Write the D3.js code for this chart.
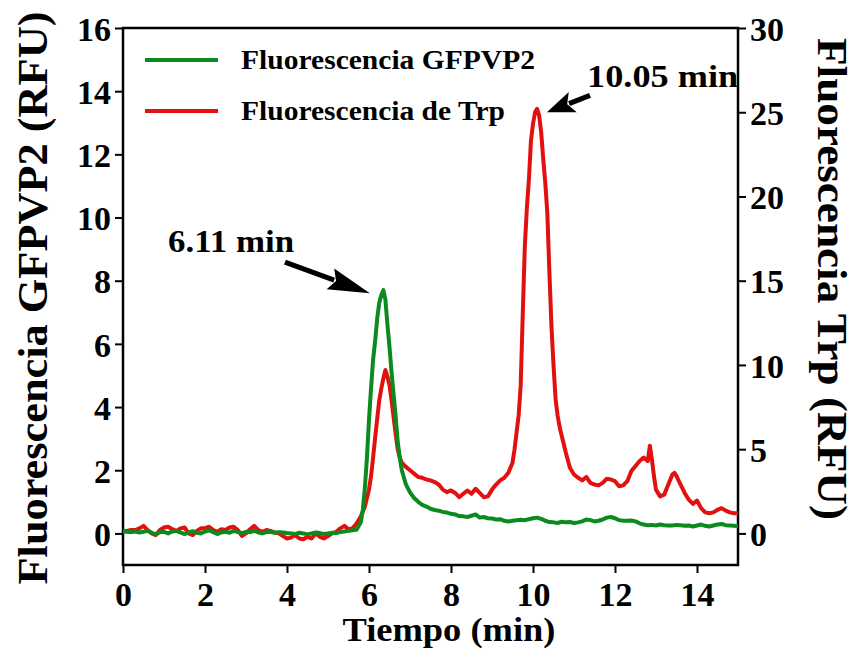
<!DOCTYPE html>
<html><head><meta charset="utf-8">
<script src="https://cdn.jsdelivr.net/npm/d3@7"></script>
<style>
html,body{margin:0;padding:0;background:#fff;}
svg{display:block;}
text{font-family:"Liberation Serif","Times New Roman",serif;font-weight:bold;fill:#000;}
</style></head>
<body>
<svg id="chart" width="855" height="649"></svg>
<script>
// ---- data ----
const xTicks = [0, 2, 4, 6, 8, 10, 12, 14];
const leftTicks = [0, 2, 4, 6, 8, 10, 12, 14, 16];
const rightTicks = [0, 5, 10, 15, 20, 25, 30];
const seriesNames = ["Fluorescencia GFPVP2", "Fluorescencia de Trp"];
const axisTitles = {x: "Tiempo (min)", left: "Fluorescencia GFPVP2 (RFU)", right: "Fluorescencia Trp (RFU)"};

// GFPVP2 fluorescence (left axis) : [time min, RFU]
const gfp = [
[0.0,0.05],[0.1,0.05],[0.2,0.04],[0.3,0.06],[0.4,0.03],[0.5,0.05],[0.6,0.08],[0.7,0.02],[0.8,-0.03],[0.9,0.04],
[1.0,0.05],[1.1,0.0],[1.2,0.06],[1.3,0.08],[1.4,0.03],[1.5,-0.02],[1.6,0.03],[1.7,0.07],[1.8,0.02],[1.9,0.0],
[2.0,0.06],[2.1,0.1],[2.2,0.04],[2.3,-0.02],[2.4,0.03],[2.5,0.05],[2.6,0.02],[2.7,0.08],[2.8,0.04],[2.9,0.01],
[3.0,0.05],[3.1,0.04],[3.2,0.08],[3.3,0.03],[3.4,0.0],[3.5,0.04],[3.6,0.05],[3.7,0.02],[3.8,0.04],[3.9,0.03],
[4.0,0.01],[4.1,0.0],[4.2,-0.02],[4.3,0.02],[4.4,0.0],[4.5,-0.03],[4.6,0.0],[4.7,0.03],[4.8,0.01],[4.9,-0.02],
[5.0,0.0],[5.1,0.02],[5.2,0.01],[5.3,0.04],[5.4,0.06],[5.5,0.08],[5.6,0.1],[5.7,0.12],[5.8,0.35],[5.85,0.75],
[5.9,1.45],[5.95,2.4],[6.0,3.6],[6.05,4.6],[6.1,5.5],[6.15,6.1],[6.2,6.8],[6.25,7.3],[6.3,7.55],[6.35,7.7],
[6.4,7.4],[6.45,6.6],[6.5,5.9],[6.55,5.1],[6.6,4.4],[6.65,3.7],[6.7,2.9],[6.75,2.4],[6.8,2.0],[6.9,1.55],
[7.0,1.3],[7.1,1.12],[7.2,1.0],[7.3,0.9],[7.4,0.85],[7.5,0.78],[7.6,0.74],[7.7,0.72],[7.8,0.68],[7.9,0.66],
[8.0,0.62],[8.1,0.6],[8.2,0.55],[8.3,0.54],[8.4,0.52],[8.5,0.56],[8.6,0.6],[8.7,0.5],[8.8,0.52],[8.9,0.48],
[9.0,0.47],[9.1,0.44],[9.2,0.45],[9.3,0.4],[9.4,0.38],[9.5,0.4],[9.6,0.42],[9.7,0.43],[9.8,0.42],[9.9,0.45],
[10.0,0.48],[10.1,0.5],[10.2,0.46],[10.3,0.4],[10.4,0.36],[10.5,0.35],[10.6,0.33],[10.7,0.37],[10.8,0.35],[10.9,0.36],
[11.0,0.33],[11.1,0.35],[11.2,0.38],[11.3,0.44],[11.4,0.42],[11.5,0.38],[11.6,0.4],[11.7,0.44],[11.8,0.5],[11.9,0.52],
[12.0,0.48],[12.1,0.42],[12.2,0.4],[12.3,0.4],[12.4,0.41],[12.5,0.38],[12.6,0.32],[12.7,0.28],[12.8,0.26],[12.9,0.27],
[13.0,0.25],[13.1,0.28],[13.2,0.26],[13.3,0.25],[13.4,0.25],[13.5,0.27],[13.6,0.26],[13.7,0.24],[13.8,0.25],[13.9,0.22],
[14.0,0.25],[14.1,0.28],[14.2,0.24],[14.3,0.22],[14.4,0.25],[14.5,0.28],[14.6,0.3],[14.7,0.26],[14.8,0.25],[14.9,0.24],
[15.0,0.23]
];

// Trp fluorescence (right axis) : [time min, RFU]
const trp = [
[0.0,0.15],[0.1,0.15],[0.2,0.2],[0.3,0.2],[0.4,0.3],[0.5,0.45],[0.6,0.2],[0.7,0.0],[0.8,-0.1],[0.9,0.2],
[1.0,0.35],[1.1,0.4],[1.2,0.25],[1.3,0.15],[1.4,0.3],[1.5,0.35],[1.6,0.0],[1.7,-0.1],[1.8,0.15],[1.9,0.3],
[2.0,0.3],[2.1,0.4],[2.2,0.2],[2.3,0.1],[2.4,0.25],[2.5,0.2],[2.6,0.35],[2.7,0.4],[2.8,0.2],[2.9,-0.15],
[3.0,0.0],[3.1,0.25],[3.2,0.45],[3.3,0.2],[3.4,0.1],[3.5,0.2],[3.6,0.15],[3.7,0.05],[3.8,0.0],[3.9,-0.15],
[4.0,-0.3],[4.1,-0.25],[4.2,-0.1],[4.3,-0.3],[4.4,-0.35],[4.5,-0.2],[4.6,-0.3],[4.7,0.0],[4.8,-0.2],[4.9,-0.3],
[5.0,-0.15],[5.1,0.0],[5.2,0.1],[5.3,0.3],[5.4,0.45],[5.5,0.25],[5.6,0.3],[5.7,0.6],[5.8,1.0],[5.9,1.6],
[6.0,2.6],[6.05,3.4],[6.1,4.5],[6.15,5.7],[6.2,6.8],[6.25,7.9],[6.3,8.6],[6.35,9.2],[6.4,9.7],[6.45,9.3],
[6.5,8.8],[6.55,7.9],[6.6,6.9],[6.65,5.9],[6.7,5.0],[6.75,4.5],[6.8,4.2],[6.9,3.95],[7.0,3.75],[7.1,3.55],
[7.2,3.35],[7.3,3.3],[7.4,3.2],[7.5,3.15],[7.6,3.05],[7.7,2.9],[7.8,2.6],[7.9,2.45],[8.0,2.55],[8.1,2.4],
[8.2,2.15],[8.3,2.35],[8.4,2.55],[8.5,2.35],[8.6,2.65],[8.7,2.4],[8.8,2.15],[8.9,2.2],[9.0,2.6],[9.1,2.9],
[9.2,3.15],[9.3,3.3],[9.4,3.6],[9.5,4.2],[9.55,5.0],[9.6,6.0],[9.65,7.0],[9.7,8.8],[9.75,13.0],[9.8,17.0],
[9.85,19.3],[9.9,21.0],[9.95,23.3],[10.0,24.3],[10.05,25.0],[10.1,25.2],[10.15,24.8],[10.2,23.8],[10.25,22.2],[10.3,20.8],
[10.35,19.0],[10.4,15.5],[10.45,12.3],[10.5,10.0],[10.55,8.0],[10.6,7.0],[10.65,6.3],[10.7,5.8],[10.8,4.8],[10.9,3.9],
[11.0,3.5],[11.1,3.3],[11.2,3.15],[11.3,3.35],[11.4,3.0],[11.5,2.9],[11.6,2.85],[11.7,3.0],[11.8,3.25],[11.9,3.2],
[12.0,3.1],[12.1,2.8],[12.2,2.85],[12.3,3.1],[12.4,3.7],[12.5,4.0],[12.6,4.3],[12.7,4.5],[12.8,4.3],[12.85,5.2],
[12.9,4.4],[12.95,3.4],[13.0,2.6],[13.1,2.2],[13.2,2.3],[13.3,2.9],[13.4,3.5],[13.45,3.6],[13.5,3.4],[13.6,2.9],
[13.7,2.4],[13.8,2.0],[13.9,1.75],[14.0,1.95],[14.1,1.5],[14.2,1.25],[14.3,1.2],[14.4,1.25],[14.5,1.4],[14.6,1.5],
[14.7,1.35],[14.8,1.25],[14.9,1.2],[15.0,1.2]
];

// annotations: label, text anchor (time, value, axis), arrow tail & tip
const annotLabels = ["6.11 min", "10.05 min"];
const annotText = [[1.1, 8.9, "left"], [11.32, 26.5, "right"]];
const annotArrows = [[[3.95, 8.59], [6.02, 7.6], "left"], [[11.39, 26.0], [10.34, 25.0], "right"]];

// ---- chart ----
const W = 855, H = 649;
const M = {left: 123, right: 738, top: 28, bottom: 565};
const svg = d3.select("#chart");
const GREEN = "#0b8a1e", RED = "#e2100f";

const x = d3.scaleLinear().domain([0, 15]).range([M.left, M.right]);
const yL = d3.scaleLinear().domain([-1, 16]).range([M.bottom, M.top]);
const yR = d3.scaleLinear().domain([-30 / 16, 30]).range([M.bottom, M.top]);
const ys = {left: yL, right: yR};

const tickFont = 34;

// axes
const gx = svg.append("g").attr("transform", `translate(0,${M.bottom})`)
  .call(d3.axisBottom(x).tickValues(xTicks).tickFormat(d3.format("d")).tickSize(8).tickPadding(6));
const gl = svg.append("g").attr("transform", `translate(${M.left},0)`)
  .call(d3.axisLeft(yL).tickValues(leftTicks).tickFormat(d3.format("d")).tickSize(8).tickPadding(4));
const gr = svg.append("g").attr("transform", `translate(${M.right},0)`)
  .call(d3.axisRight(yR).tickValues(rightTicks).tickFormat(d3.format("d")).tickSize(8).tickPadding(4));
[gx, gl, gr].forEach(g => {
  g.select(".domain").remove();
  g.selectAll(".tick line").attr("stroke", "#000").attr("stroke-width", 2);
  g.selectAll(".tick text").attr("font-size", tickFont).attr("font-family", null);
});
gx.selectAll(".tick text").attr("dy", "0.8em");
gl.selectAll(".tick text").attr("dy", "0.36em");
gr.selectAll(".tick text").attr("dy", "0.36em");

// frame
svg.append("rect").attr("x", M.left).attr("y", M.top)
  .attr("width", M.right - M.left).attr("height", M.bottom - M.top)
  .attr("fill", "none").attr("stroke", "#000").attr("stroke-width", 2.5);

// lines
const clip = svg.append("clipPath").attr("id", "clip").append("rect")
  .attr("x", M.left).attr("y", M.top).attr("width", M.right - M.left).attr("height", M.bottom - M.top);
const lineL = d3.line().x(d => x(d[0])).y(d => yL(d[1]));
const lineR = d3.line().x(d => x(d[0])).y(d => yR(d[1]));
const plot = svg.append("g").attr("clip-path", "url(#clip)");
plot.append("path").datum(trp).attr("d", lineR).attr("fill", "none")
  .attr("stroke", RED).attr("stroke-width", 4).attr("stroke-linejoin", "round");
plot.append("path").datum(gfp).attr("d", lineL).attr("fill", "none")
  .attr("stroke", GREEN).attr("stroke-width", 4).attr("stroke-linejoin", "round");

// legend
const legY = [60, 111];
const legColors = [GREEN, RED];
const legLens = [294, 264];
seriesNames.forEach((n, i) => {
  svg.append("line").attr("x1", 145).attr("x2", 218).attr("y1", legY[i]).attr("y2", legY[i])
    .attr("stroke", legColors[i]).attr("stroke-width", 4);
  svg.append("text").attr("x", 241).attr("y", legY[i] + 9).attr("font-size", 28)
    .attr("textLength", legLens[i]).attr("lengthAdjust", "spacingAndGlyphs").text(n);
});

// annotations
const annLens = [126, 151];
annotLabels.forEach((t, i) => {
  const [ax, ay, axis] = annotText[i];
  svg.append("text").attr("x", x(ax)).attr("y", ys[axis](ay)).attr("font-size", 32)
    .attr("textLength", annLens[i]).attr("lengthAdjust", "spacingAndGlyphs").text(t);
});
annotArrows.forEach(([tail, tip, axis]) => {
  const x0 = x(tail[0]), y0 = ys[axis](tail[1]), x1 = x(tip[0]), y1 = ys[axis](tip[1]);
  const dx = x1 - x0, dy = y1 - y0, len = Math.hypot(dx, dy);
  const ux = dx / len, uy = dy / len, hl = Math.min(42, len * 0.6), hw = 11;
  const bx = x1 - ux * hl, by = y1 - uy * hl;
  svg.append("line").attr("x1", x0).attr("y1", y0).attr("x2", bx + ux * 4).attr("y2", by + uy * 4)
    .attr("stroke", "#000").attr("stroke-width", 5);
  svg.append("path").attr("d", `M${x1},${y1}L${bx - uy * hw},${by + ux * hw}L${bx + ux * 6},${by + uy * 6}L${bx + uy * hw},${by - ux * hw}Z`)
    .attr("fill", "#000");
});

// axis titles
svg.append("text").attr("x", 449).attr("y", 641).attr("text-anchor", "middle").attr("font-size", 34)
  .attr("textLength", 213).attr("lengthAdjust", "spacingAndGlyphs").text(axisTitles.x);
svg.append("text").attr("transform", "translate(47,298) rotate(-90)").attr("text-anchor", "middle")
  .attr("font-size", 42).attr("textLength", 573).attr("lengthAdjust", "spacingAndGlyphs").text(axisTitles.left);
svg.append("text").attr("transform", "translate(818,279) rotate(90)").attr("text-anchor", "middle")
  .attr("font-size", 42).attr("textLength", 482).attr("lengthAdjust", "spacingAndGlyphs").text(axisTitles.right);
</script>
</body></html>
